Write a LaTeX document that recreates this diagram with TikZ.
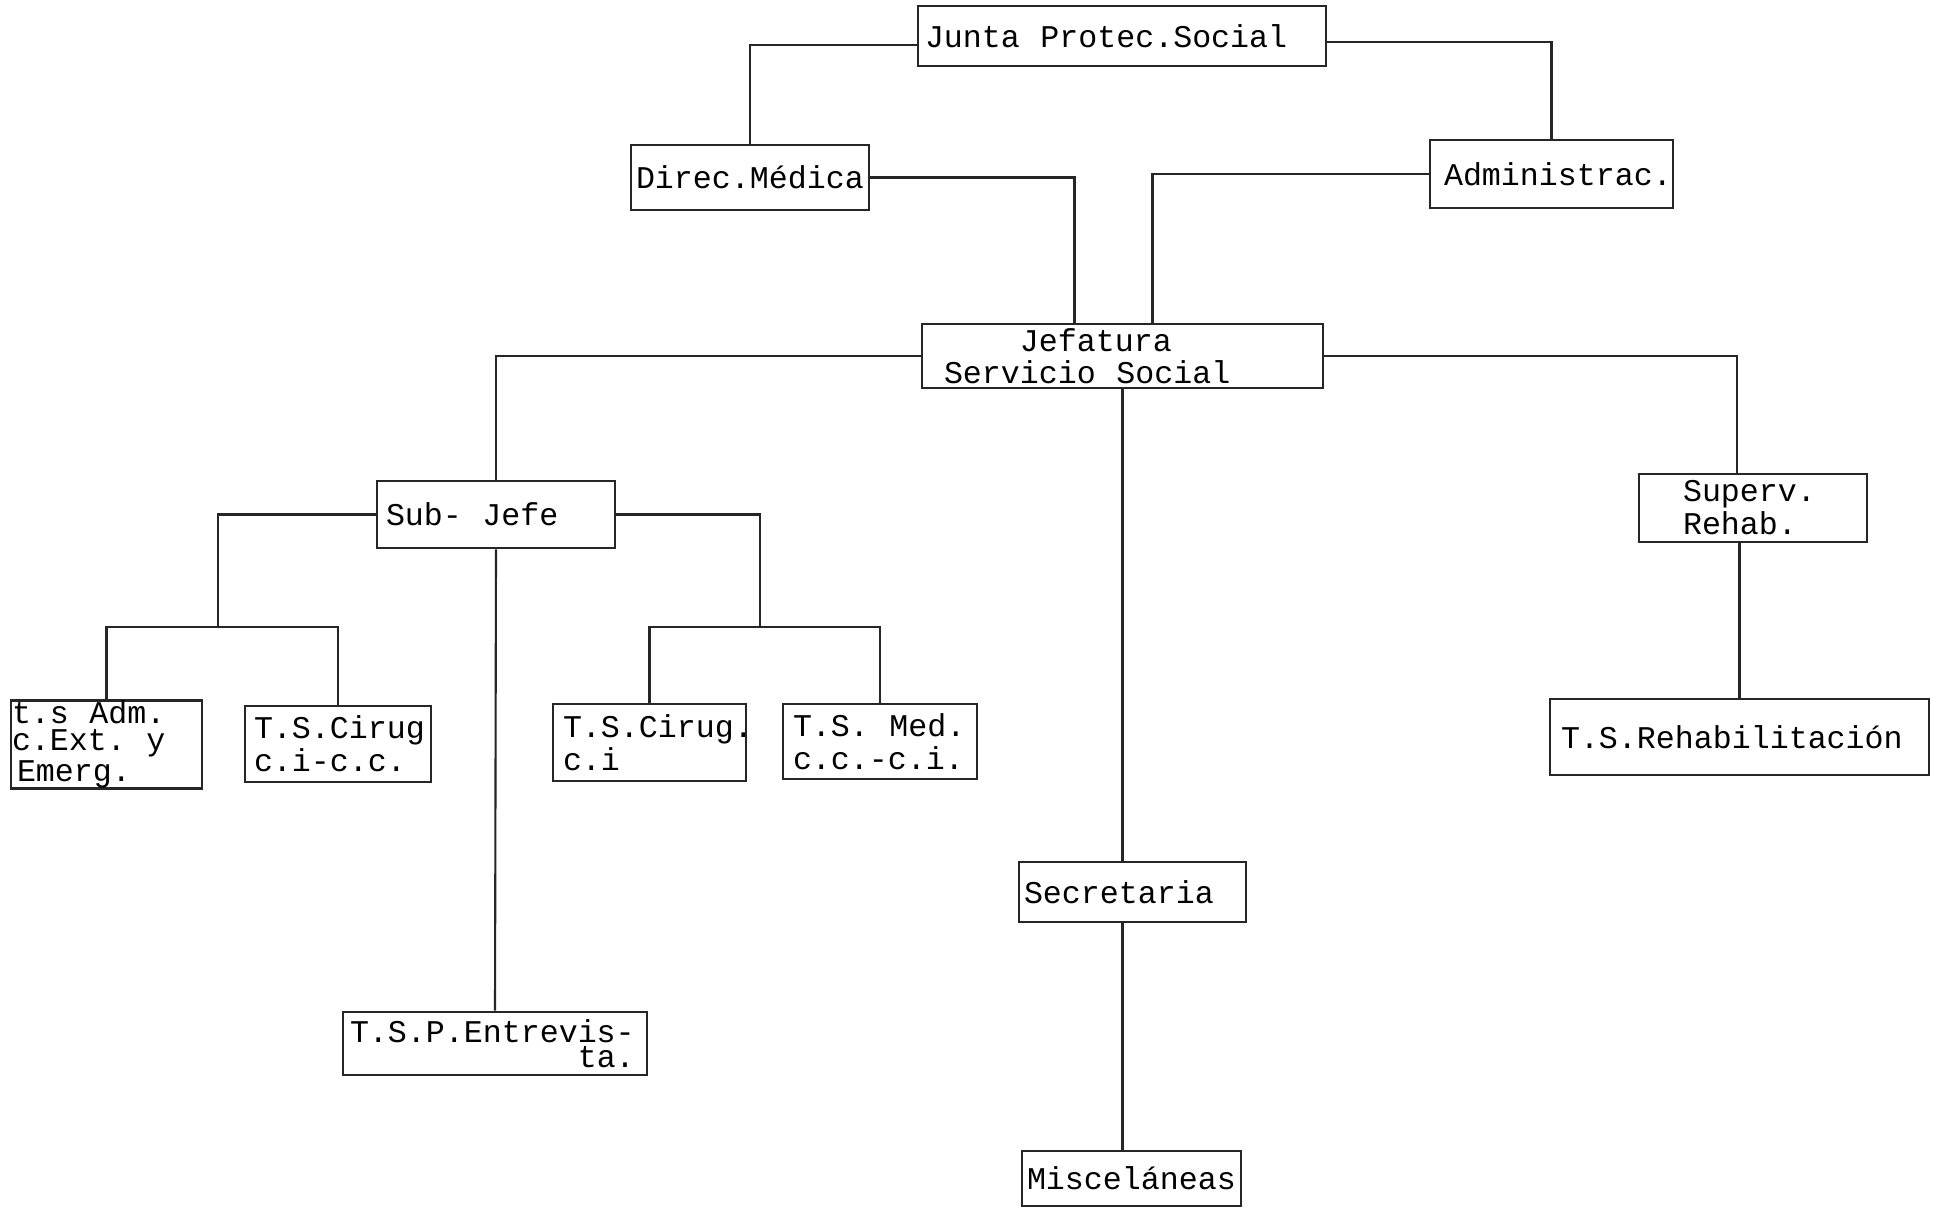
\documentclass[tikz,border=0pt]{standalone}
\usepackage{fontspec}
\newfontfamily\typewriter{Liberation Mono}
\newcommand\orgfont[1]{\typewriter\fontsize{9}{#1}\selectfont\hyphenpenalty=10000\relax}
\newcommand\tsp{\kern0.65em\relax}
\usetikzlibrary{positioning, calc}
\tikzset{
  orgbox/.style={rectangle, draw=black!85, line width=0.8pt, inner xsep=0pt, inner ysep=0pt,
              align=left, font=\orgfont{9.4}},
  orgline/.style={draw=black!85, line width=0.6pt},
}
\begin{document}
\begin{tikzpicture}
  \fill[white] (0,0) rectangle (19.4,-12.09);
  \useasboundingbox (0,0) rectangle (19.4,-12.09);
  % top level
  \node[orgbox, minimum width=4.08cm, minimum height=0.60cm, text width=3.94cm] (junta) at (11.22,-0.36) {Junta\tsp Protec.Social};
  \node[orgbox, minimum width=2.38cm, minimum height=0.65cm, text width=2.28cm] (direc) at (7.50,-1.775) {Direc.Médica};
  \node[orgbox, minimum width=2.43cm, minimum height=0.68cm, text width=2.15cm] (admin) at (15.515,-1.74) {Administrac.};
  \node[orgbox, minimum width=4.01cm, minimum height=0.64cm, text width=3.57cm, font=\orgfont{9.1}] (jefatura) at (11.225,-3.56) {\phantom{Serv}Jefatura\\Servicio\tsp Social};
  % second level
  \node[orgbox, minimum width=2.38cm, minimum height=0.67cm, text width=2.20cm] (subjefe) at (4.96,-5.145) {Sub-\tsp Jefe};
  \node[orgbox, minimum width=2.28cm, minimum height=0.68cm, text width=1.40cm] (superv) at (17.53,-5.08) {Superv.\\Rehab.};
  % workers
  \node[orgbox, minimum width=1.91cm, minimum height=0.77cm, text width=1.89cm, font=\orgfont{7.7}] (tsadm) at (1.065,-7.445) {t.s\tsp Adm.\\c.Ext.\tsp y\\\hspace*{0.05cm}Emerg.};
  \node[orgbox, minimum width=1.86cm, minimum height=0.76cm, text width=1.68cm] (cirugA) at (3.38,-7.44) {T.S.Cirug\\c.i-c.c.};
  \node[orgbox, minimum width=1.93cm, minimum height=0.77cm, text width=1.73cm] (cirugB) at (6.495,-7.425) {T.S.Cirug.\\c.i};
  \node[orgbox, minimum width=1.94cm, minimum height=0.75cm, text width=1.74cm] (med) at (8.80,-7.415) {T.S.\tsp Med.\\c.c.-c.i.};
  \node[orgbox, minimum width=3.79cm, minimum height=0.76cm, text width=3.57cm] (rehab) at (17.395,-7.37) {T.S.Rehabilitación};
  \node[orgbox, minimum width=2.27cm, minimum height=0.60cm, text width=2.17cm] (secretaria) at (11.325,-8.92) {Secretaria};
  \node[orgbox, minimum width=3.04cm, minimum height=0.63cm, text width=2.90cm, font=\orgfont{4.8}] (entrev) at (4.95,-10.435) {T.S.P.Entrevis-\\\phantom{T.S.P.Entrev}ta.};
  \node[orgbox, minimum width=2.19cm, minimum height=0.55cm, text width=2.09cm] (misc) at (11.315,-11.785) {Misceláneas};
  \coordinate (lbar) at (2.18,-6.27);
  \coordinate (rbar) at (7.60,-6.27);
  % connectors
  \draw[orgline] ([yshift=-0.9mm]junta.west) -| (direc.north);
  \draw[orgline] ([yshift=-0.6mm]junta.east) -| (admin.north);
  \draw[orgline] (direc.east) -| ([xshift=-4.8mm]jefatura.north);
  \draw[orgline] (admin.west) -| ([xshift=3mm]jefatura.north);
  \draw[orgline] (jefatura.west) -| (subjefe.north);
  \draw[orgline] (jefatura.east) -| ([xshift=-1.6mm]superv.north);
  \draw[orgline] (jefatura.south) -- (jefatura.south |- secretaria.north);
  \draw[orgline] (jefatura.south |- secretaria.south) -- (jefatura.south |- misc.north);
  \draw[orgline] (subjefe.west) -| (lbar);
  \draw[orgline] (tsadm.north) |- (lbar) -| (cirugA.north);
  \draw[orgline] (subjefe.east) -| (rbar);
  \draw[orgline] (cirugB.north) |- (rbar) -| (med.north);
  \draw[orgline] (subjefe.south) -- (entrev.north);
  \draw[orgline] (rehab.north) -- (rehab.north |- superv.south);
\end{tikzpicture}
\end{document}
